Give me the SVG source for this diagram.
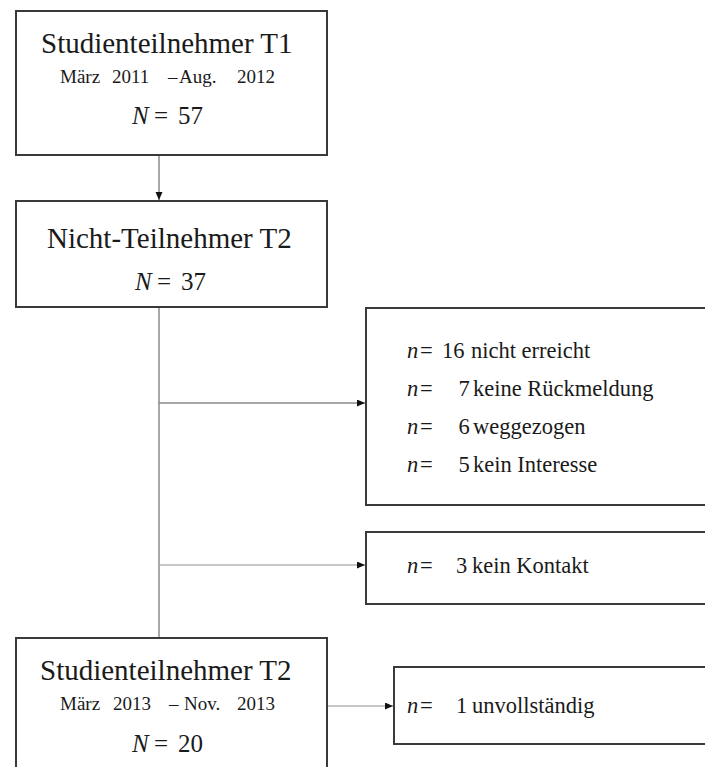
<svg xmlns="http://www.w3.org/2000/svg" width="705" height="767" viewBox="0 0 705 767">
<style>
  .box { fill: #ffffff; stroke: #3a3a3a; stroke-width: 2; }
  text { font-family: "Liberation Serif", "Times New Roman", "DejaVu Serif", serif; fill: #1a1a1a; }
  .title { font-size: 29px; }
  .sub { font-size: 19px; }
  .big { font-size: 25px; }
  .item { font-size: 22.5px; }
  .it { font-style: italic; }
  .trunk { stroke: #a8a8a8; stroke-width: 2; fill: none; }
  .branch { stroke: #8a8a8a; stroke-width: 1.4; fill: none; }
  .branch2 { stroke: #b4b4b4; stroke-width: 1.6; fill: none; }
</style>
<defs>
  <marker id="arr" markerUnits="userSpaceOnUse" markerWidth="9" markerHeight="8" refX="8" refY="3.5" orient="auto">
    <path d="M0,0 L8,3.5 L0,7 z" fill="#111111"/>
  </marker>
</defs>
<rect width="705" height="767" fill="#ffffff"/>

<g id="connectors">
  <line class="trunk" x1="159" y1="155" x2="159" y2="200" marker-end="url(#arr)"/>
  <line class="trunk" x1="159" y1="307" x2="159" y2="638"/>
  <line class="branch" x1="159" y1="403" x2="365" y2="403" marker-end="url(#arr)"/>
  <line class="branch2" x1="159" y1="565" x2="365" y2="565" marker-end="url(#arr)"/>
  <line class="branch2" x1="327" y1="706" x2="393" y2="706" marker-end="url(#arr)"/>
</g>

<g id="node-t1">
  <rect class="box" x="16" y="11" width="311" height="144"/>
  <text class="title" x="41" y="53">Studienteilnehmer T1</text>
  <text class="sub" y="83"><tspan x="60">März</tspan><tspan x="112">2011</tspan><tspan x="168">–</tspan><tspan x="179">Aug.</tspan><tspan x="237">2012</tspan></text>
  <text class="big" y="124"><tspan x="132" class="it">N</tspan><tspan x="154">=</tspan><tspan x="178">57</tspan></text>
</g>

<g id="node-nicht-t2">
  <rect class="box" x="16" y="201" width="311" height="106"/>
  <text class="title" x="47" y="248">Nicht-Teilnehmer T2</text>
  <text class="big" y="290"><tspan x="135" class="it">N</tspan><tspan x="157">=</tspan><tspan x="181">37</tspan></text>
</g>

<g id="node-gruende">
  <rect class="box" x="366" y="308" width="360" height="197"/>
  <text class="item" y="358"><tspan x="407" class="it">n</tspan><tspan x="420">=</tspan><tspan x="442">16</tspan><tspan x="471">nicht erreicht</tspan></text>
  <text class="item" y="396"><tspan x="407" class="it">n</tspan><tspan x="420">=</tspan><tspan x="458.5">7</tspan><tspan x="473">keine Rückmeldung</tspan></text>
  <text class="item" y="434"><tspan x="407" class="it">n</tspan><tspan x="420">=</tspan><tspan x="458.5">6</tspan><tspan x="473">weggezogen</tspan></text>
  <text class="item" y="472"><tspan x="407" class="it">n</tspan><tspan x="420">=</tspan><tspan x="458.5">5</tspan><tspan x="473">kein Interesse</tspan></text>
</g>

<g id="node-kontakt">
  <rect class="box" x="366" y="532" width="360" height="72"/>
  <text class="item" y="573"><tspan x="407" class="it">n</tspan><tspan x="420">=</tspan><tspan x="456">3</tspan><tspan x="472">kein Kontakt</tspan></text>
</g>

<g id="node-t2">
  <rect class="box" x="16" y="638" width="311" height="160"/>
  <text class="title" x="40" y="680">Studienteilnehmer T2</text>
  <text class="sub" y="710"><tspan x="60">März</tspan><tspan x="113">2013</tspan><tspan x="169">–</tspan><tspan x="184">Nov.</tspan><tspan x="237">2013</tspan></text>
  <text class="big" y="752"><tspan x="132" class="it">N</tspan><tspan x="154">=</tspan><tspan x="178">20</tspan></text>
</g>

<g id="node-unvollstaendig">
  <rect class="box" x="394" y="667" width="330" height="77"/>
  <text class="item" y="713"><tspan x="407" class="it">n</tspan><tspan x="420">=</tspan><tspan x="456">1</tspan><tspan x="472">unvollständig</tspan></text>
</g>
</svg>
